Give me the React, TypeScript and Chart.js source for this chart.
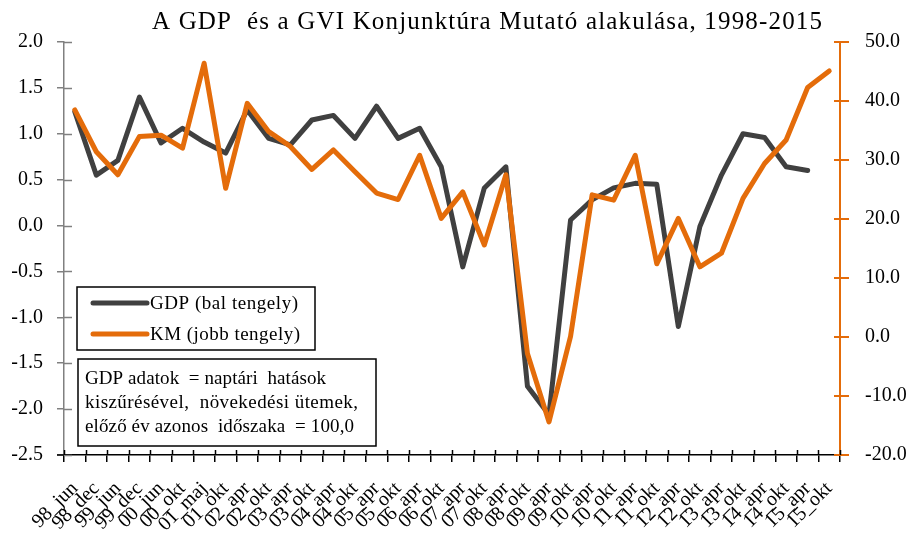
import React, { useEffect, useRef } from "react";
import { Chart, registerables } from "chart.js";

Chart.register(...registerables);

const categories = [
  "98_jun", "98_dec", "99_jun", "99_dec", "00_jun", "00_okt", "01_maj", "01_okt",
  "02_apr", "02_okt", "03_apr", "03_okt", "04_apr", "04_okt", "05_apr", "05_okt",
  "06_apr", "06_okt", "07_apr", "07_okt", "08_apr", "08_okt", "09_apr", "09_okt",
  "10_apr", "10_okt", "11_apr", "11_okt", "12_apr", "12_okt", "13_apr", "13_okt",
  "14_apr", "14_okt", "15_apr", "15_okt",
];

const gdpValues = [
  1.24, 0.55, 0.71, 1.4, 0.9, 1.06, 0.91, 0.79, 1.26, 0.95, 0.88, 1.15, 1.2, 0.95,
  1.3, 0.95, 1.06, 0.64, -0.45, 0.41, 0.64, -1.75, -2.06, 0.06, 0.28, 0.41, 0.46,
  0.45, -1.1, -0.01, 0.55, 1.0, 0.96, 0.64, 0.6, null,
];

const kmValues = [
  38.5, 31.4, 27.5, 34.0, 34.2, 32.0, 46.4, 25.2, 39.6, 34.8, 32.3, 28.4, 31.7, 28.0,
  24.4, 23.3, 30.8, 20.1, 24.6, 15.6, 27.5, -2.8, -14.4, 0.1, 24.1, 23.2, 30.8, 12.4,
  20.1, 11.9, 14.2, 23.5, 29.4, 33.4, 42.3, 45.1,
];

const leftAxisRange = [-2.5, 2.0, 0.5];
const rightAxisRange = [-20, 50, 10];

const TITLE = "A GDP  és a GVI Konjunktúra Mutató alakulása, 1998-2015";
const legendLabels = ["GDP (bal tengely)", "KM (jobb tengely)"];
const noteLines = [
  "GDP adatok  = naptári  hatások",
  "kiszűrésével,  növekedési ütemek,",
  "előző év azonos  időszaka  = 100,0",
];

const GDP_COLOR = "#404040";
const KM_COLOR = "#E46C0A";
const LEFT_AXIS_COLOR = "#808080";
const FONT = '"Liberation Serif", "Times New Roman", serif';

function fitText(ctx: CanvasRenderingContext2D, text: string, x: number, y: number, width: number) {
  (ctx as any).letterSpacing = "0px";
  const w = ctx.measureText(text).width;
  const ls = Math.max(0, (width - w) / (text.length - 1));
  (ctx as any).letterSpacing = `${ls}px`;
  ctx.fillText(text, x, y);
  (ctx as any).letterSpacing = "0px";
}

const overlayPlugin = {
  id: "overlay",
  afterDraw(chart: any) {
    const ctx = chart.ctx as CanvasRenderingContext2D;
    const area = chart.chartArea;
    ctx.save();

    // inner halves of the crossing tick marks
    const sy = chart.scales.y;
    ctx.strokeStyle = LEFT_AXIS_COLOR;
    ctx.lineWidth = 1.5;
    sy.ticks.forEach((t: any) => {
      const py = Math.round(sy.getPixelForValue(t.value)) + 0.5;
      ctx.beginPath();
      ctx.moveTo(area.left, py);
      ctx.lineTo(area.left + 8, py);
      ctx.stroke();
    });
    const sy1 = chart.scales.y1;
    ctx.strokeStyle = KM_COLOR;
    ctx.lineWidth = 2;
    sy1.ticks.forEach((t: any) => {
      const py = Math.round(sy1.getPixelForValue(t.value));
      ctx.beginPath();
      ctx.moveTo(area.right - 6, py);
      ctx.lineTo(area.right, py);
      ctx.stroke();
    });
    const sx = chart.scales.x;
    ctx.strokeStyle = "#000";
    ctx.lineWidth = 1.5;
    for (let i = 0; i <= categories.length; i++) {
      const px = Math.round(sx.getPixelForValue(i - 0.5)) + 0.5;
      ctx.beginPath();
      ctx.moveTo(px, area.bottom - 5);
      ctx.lineTo(px, area.bottom);
      ctx.stroke();
    }
    // x axis line extends under the left axis tick
    ctx.beginPath();
    ctx.moveTo(area.left - 7, area.bottom);
    ctx.lineTo(area.left, area.bottom);
    ctx.stroke();

    // title
    ctx.font = `25px ${FONT}`;
    ctx.fillStyle = "#000";
    ctx.textAlign = "left";
    ctx.textBaseline = "alphabetic";
    fitText(ctx, TITLE, 152, 29, 670);

    // legend box
    ctx.fillStyle = "#fff";
    ctx.fillRect(77, 287, 238, 63);
    ctx.strokeStyle = "#000";
    ctx.lineWidth = 1.5;
    ctx.strokeRect(77, 287, 238, 63);
    const colors = [GDP_COLOR, KM_COLOR];
    const ys = [303, 334];
    const legendWidths = [148, 150];
    ctx.lineCap = "round";
    ctx.font = `19px ${FONT}`;
    ctx.textBaseline = "middle";
    legendLabels.forEach((lbl, i) => {
      ctx.strokeStyle = colors[i];
      ctx.lineWidth = 5;
      ctx.beginPath();
      ctx.moveTo(93, ys[i]);
      ctx.lineTo(147, ys[i]);
      ctx.stroke();
      ctx.fillStyle = "#000";
      fitText(ctx, lbl, 150, ys[i] + 1, legendWidths[i]);
    });

    // note box
    ctx.fillStyle = "#fff";
    ctx.fillRect(78, 359, 298, 87);
    ctx.strokeStyle = "#000";
    ctx.lineWidth = 1.5;
    ctx.strokeRect(78, 359, 298, 87);
    ctx.fillStyle = "#000";
    ctx.font = `19px ${FONT}`;
    const nys = [379, 403, 427];
    const nws = [241, 273, 269];
    noteLines.forEach((t, i) => {
      fitText(ctx, t, 85, nys[i], nws[i]);
    });
    ctx.restore();
  },
};

export default function App() {
  const ref = useRef<HTMLCanvasElement | null>(null);

  useEffect(() => {
    if (!ref.current) return;
    const chart = new Chart(ref.current, {
      type: "line",
      data: {
        labels: categories,
        datasets: [
          {
            label: legendLabels[0],
            data: gdpValues,
            borderColor: GDP_COLOR,
            backgroundColor: GDP_COLOR,
            borderWidth: 5,
            borderCapStyle: "round",
            borderJoinStyle: "round",
            pointRadius: 0,
            tension: 0,
            yAxisID: "y",
            order: 1,
          },
          {
            label: legendLabels[1],
            data: kmValues,
            borderColor: KM_COLOR,
            backgroundColor: KM_COLOR,
            borderWidth: 5,
            borderCapStyle: "round",
            borderJoinStyle: "round",
            pointRadius: 0,
            tension: 0,
            yAxisID: "y1",
            order: 0,
          },
        ],
      },
      options: {
        animation: false,
        responsive: false,
        devicePixelRatio: 1,
        layout: { padding: { top: 42, left: 0, right: 0, bottom: 0 } },
        plugins: {
          legend: { display: false },
          title: { display: false },
          tooltip: { enabled: false },
        },
        scales: {
          x: {
            type: "category",
            offset: true,
            grid: {
              offset: true,
              drawOnChartArea: false,
              drawTicks: true,
              tickLength: 7,
              color: "#000",
              lineWidth: 1.5,
            },
            border: { color: "#000", width: 1.5 },
            ticks: {
              autoSkip: false,
              maxRotation: 45,
              minRotation: 45,
              padding: 15,
              color: "#000",
              font: { family: FONT, size: 20 },
            },
            afterFit(scale: any) {
              scale.height = 79;
            },
          },
          y: {
            position: "left",
            min: leftAxisRange[0],
            max: leftAxisRange[1],
            grid: {
              drawOnChartArea: false,
              tickLength: 7,
              color: LEFT_AXIS_COLOR,
              lineWidth: 1.5,
            },
            border: { color: LEFT_AXIS_COLOR, width: 1.5 },
            ticks: {
              stepSize: leftAxisRange[2],
              padding: 14,
              color: "#000",
              font: { family: FONT, size: 20 },
              callback: (v: any) => Number(v).toFixed(1),
            },
            afterFit(scale: any) {
              scale.width = 64;
            },
          },
          y1: {
            position: "right",
            min: rightAxisRange[0],
            max: rightAxisRange[1],
            grid: {
              drawOnChartArea: false,
              tickLength: 9,
              color: KM_COLOR,
              lineWidth: 2,
            },
            border: { color: KM_COLOR, width: 2 },
            ticks: {
              stepSize: rightAxisRange[2],
              padding: 16,
              color: "#000",
              font: { family: FONT, size: 20 },
              callback: (v: any) => Number(v).toFixed(1),
            },
            afterFit(scale: any) {
              scale.width = 73;
            },
          },
        },
      },
      plugins: [overlayPlugin],
    } as any);
    return () => chart.destroy();
  }, []);

  return (
    <div style={{ position: "fixed", left: 0, top: 0, width: 913, height: 534, background: "#fff" }}>
      <canvas ref={ref} width={913} height={534} style={{ display: "block" }} />
    </div>
  );
}
